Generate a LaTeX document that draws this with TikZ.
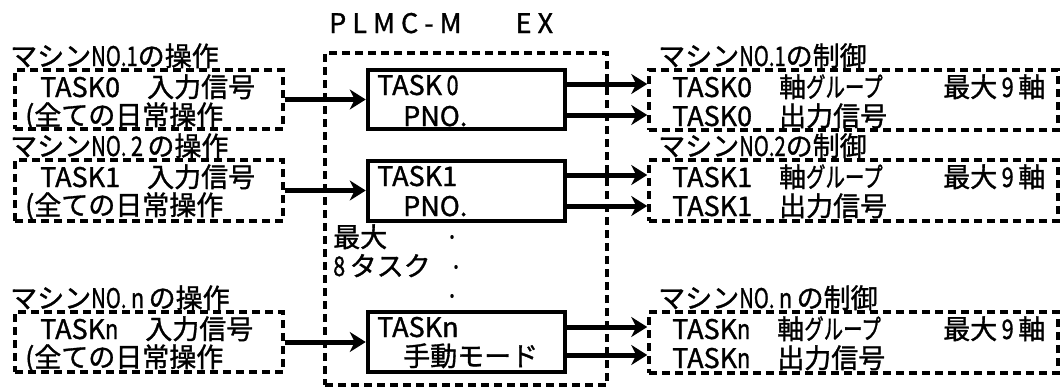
\documentclass[tikz,border=0pt]{standalone}
\usepackage{fontspec}
\setmainfont{Noto Sans CJK JP}[FakeBold=1.2]
\usetikzlibrary{arrows.meta,shapes.geometric}
\newcommand\cnd[2][0.75]{\scalebox{#1}[1]{#2}}
\begin{document}
\begin{tikzpicture}[x=1pt,y=-1pt,
  dbox/.style={draw,line width=3.5pt,dash pattern=on 8pt off 5pt,rectangle,inner sep=0pt},
  tbox/.style={draw,line width=4.5pt,rectangle,inner sep=0pt},
  txt/.style={anchor=base west,inner sep=0pt,font=\fontsize{27pt}{30pt}\selectfont},
  dotmark/.style={ellipse,fill=black,inner sep=0pt,minimum width=3.5pt,minimum height=4pt},
  arr/.style={line width=5pt,-{Stealth[length=16pt,width=20pt,inset=5pt]}},
]
\useasboundingbox (0,0) rectangle (1061,388);
% title
\node[txt] (title) at (329,33) {P L M C - M　　E X};
% outer dashed box
\node[dbox,minimum width=282pt,minimum height=332pt] (outer) at (466,219) {};
% left boxes
\node[dbox,minimum width=268pt,minimum height=59pt] (L0) at (149,99.5) {};
\node[dbox,minimum width=268pt,minimum height=61pt] (L1) at (149,190.5) {};
\node[dbox,minimum width=268pt,minimum height=60pt] (L2) at (149,342) {};
% task boxes
\node[tbox,minimum width=197pt,minimum height=59pt] (T0) at (466.5,99.5) {};
\node[tbox,minimum width=197pt,minimum height=60pt] (T1) at (466.5,191) {};
\node[tbox,minimum width=197pt,minimum height=60pt] (T2) at (466.5,342) {};
% right boxes
\node[dbox,minimum width=409pt,minimum height=60pt] (R0) at (853.5,100) {};
\node[dbox,minimum width=409pt,minimum height=61pt] (R1) at (853.5,190.5) {};
\node[dbox,minimum width=409pt,minimum height=61pt] (R2) at (853.5,342.5) {};
% left texts
\node[txt] (l0t) at (10,66) {マシン\cnd{NO.1}の操作};
\node[txt] (l0a) at (40,97) {TASK0　入力信号};
\node[txt] (l0b) at (25,125) {(全ての日常操作};
\node[txt] (l1t) at (10,156) {マシン\cnd{NO.}\,\cnd[0.8]{2}\,の操作};
\node[txt] (l1a) at (40,187) {TASK1　入力信号};
\node[txt] (l1b) at (25,215) {(全ての日常操作};
\node[txt] (l2t) at (10,308) {マシン\cnd{NO.}\,\cnd[0.8]{n}\,の操作};
\node[txt] (l2a) at (40,339) {TASK\cnd[0.8]{n}　入力信号};
\node[txt] (l2b) at (25,367) {(全ての日常操作};
% task texts
\node[txt] (t0a) at (377,95) {TASK\,\cnd[0.8]{0}};
\node[txt] (t0b) at (403,126) {PNO.};
\node[txt] (t1a) at (377,186) {TASK1};
\node[txt] (t1b) at (403,216) {PNO.};
\node[txt] (t2a) at (377,337) {TASKn};
\node[txt] (t2b) at (403,366) {手動モード};
% middle texts
\node[txt] (m1) at (333,247) {最大};
\node[txt] (m2) at (333,276) {\cnd[0.8]{8}\,タスク};
\node[dotmark] (d1) at (452,237) {};
\node[dotmark] (d2) at (456,267) {};
\node[dotmark] (d3) at (452,296) {};
% right texts
\node[txt] (r0t) at (658,66) {マシン\cnd{NO.1}の制御};
\node[txt] (r0a) at (672,97) {\makebox[373pt][l]{TASK0　軸\cnd[0.72]{グループ}\hfill 最大\,\cnd[0.8]{9}\,軸}};
\node[txt] (r0b) at (672,126) {TASK0　出力信号};
\node[txt] (r1t) at (658,156) {マシン\cnd{NO.2}の制御};
\node[txt] (r1a) at (672,187) {\makebox[373pt][l]{TASK1　軸\cnd[0.72]{グループ}\hfill 最大\,\cnd[0.8]{9}\,軸}};
\node[txt] (r1b) at (672,216) {TASK1　出力信号};
\node[txt] (r2t) at (658,308) {マシン\cnd{NO.}\,\cnd[0.8]{n}\,の制御};
\node[txt] (r2a) at (672,339) {\makebox[373pt][l]{TASK\cnd[0.8]{n}　軸\cnd[0.72]{グループ}\hfill 最大\,\cnd[0.8]{9}\,軸}};
\node[txt] (r2b) at (672,368) {TASK\cnd[0.8]{n}　出力信号};
% input arrows
\draw[arr] (L0.east) -- (L0.east -| T0.west);
\draw[arr] (L1.east) -- (L1.east -| T1.west);
\draw[arr] (L2.east) -- (L2.east -| T2.west);
% output arrows
\coordinate (o0a) at ([yshift=15.5pt]T0.east);
\coordinate (o0b) at ([yshift=-15.5pt]T0.east);
\coordinate (o1a) at ([yshift=16pt]T1.east);
\coordinate (o1b) at ([yshift=-15pt]T1.east);
\coordinate (o2a) at ([yshift=15pt]T2.east);
\coordinate (o2b) at ([yshift=-13pt]T2.east);
\draw[arr] (o0a) -- (o0a -| R0.west);
\draw[arr] (o0b) -- (o0b -| R0.west);
\draw[arr] (o1a) -- (o1a -| R1.west);
\draw[arr] (o1b) -- (o1b -| R1.west);
\draw[arr] (o2a) -- (o2a -| R2.west);
\draw[arr] (o2b) -- (o2b -| R2.west);
\end{tikzpicture}
\end{document}
